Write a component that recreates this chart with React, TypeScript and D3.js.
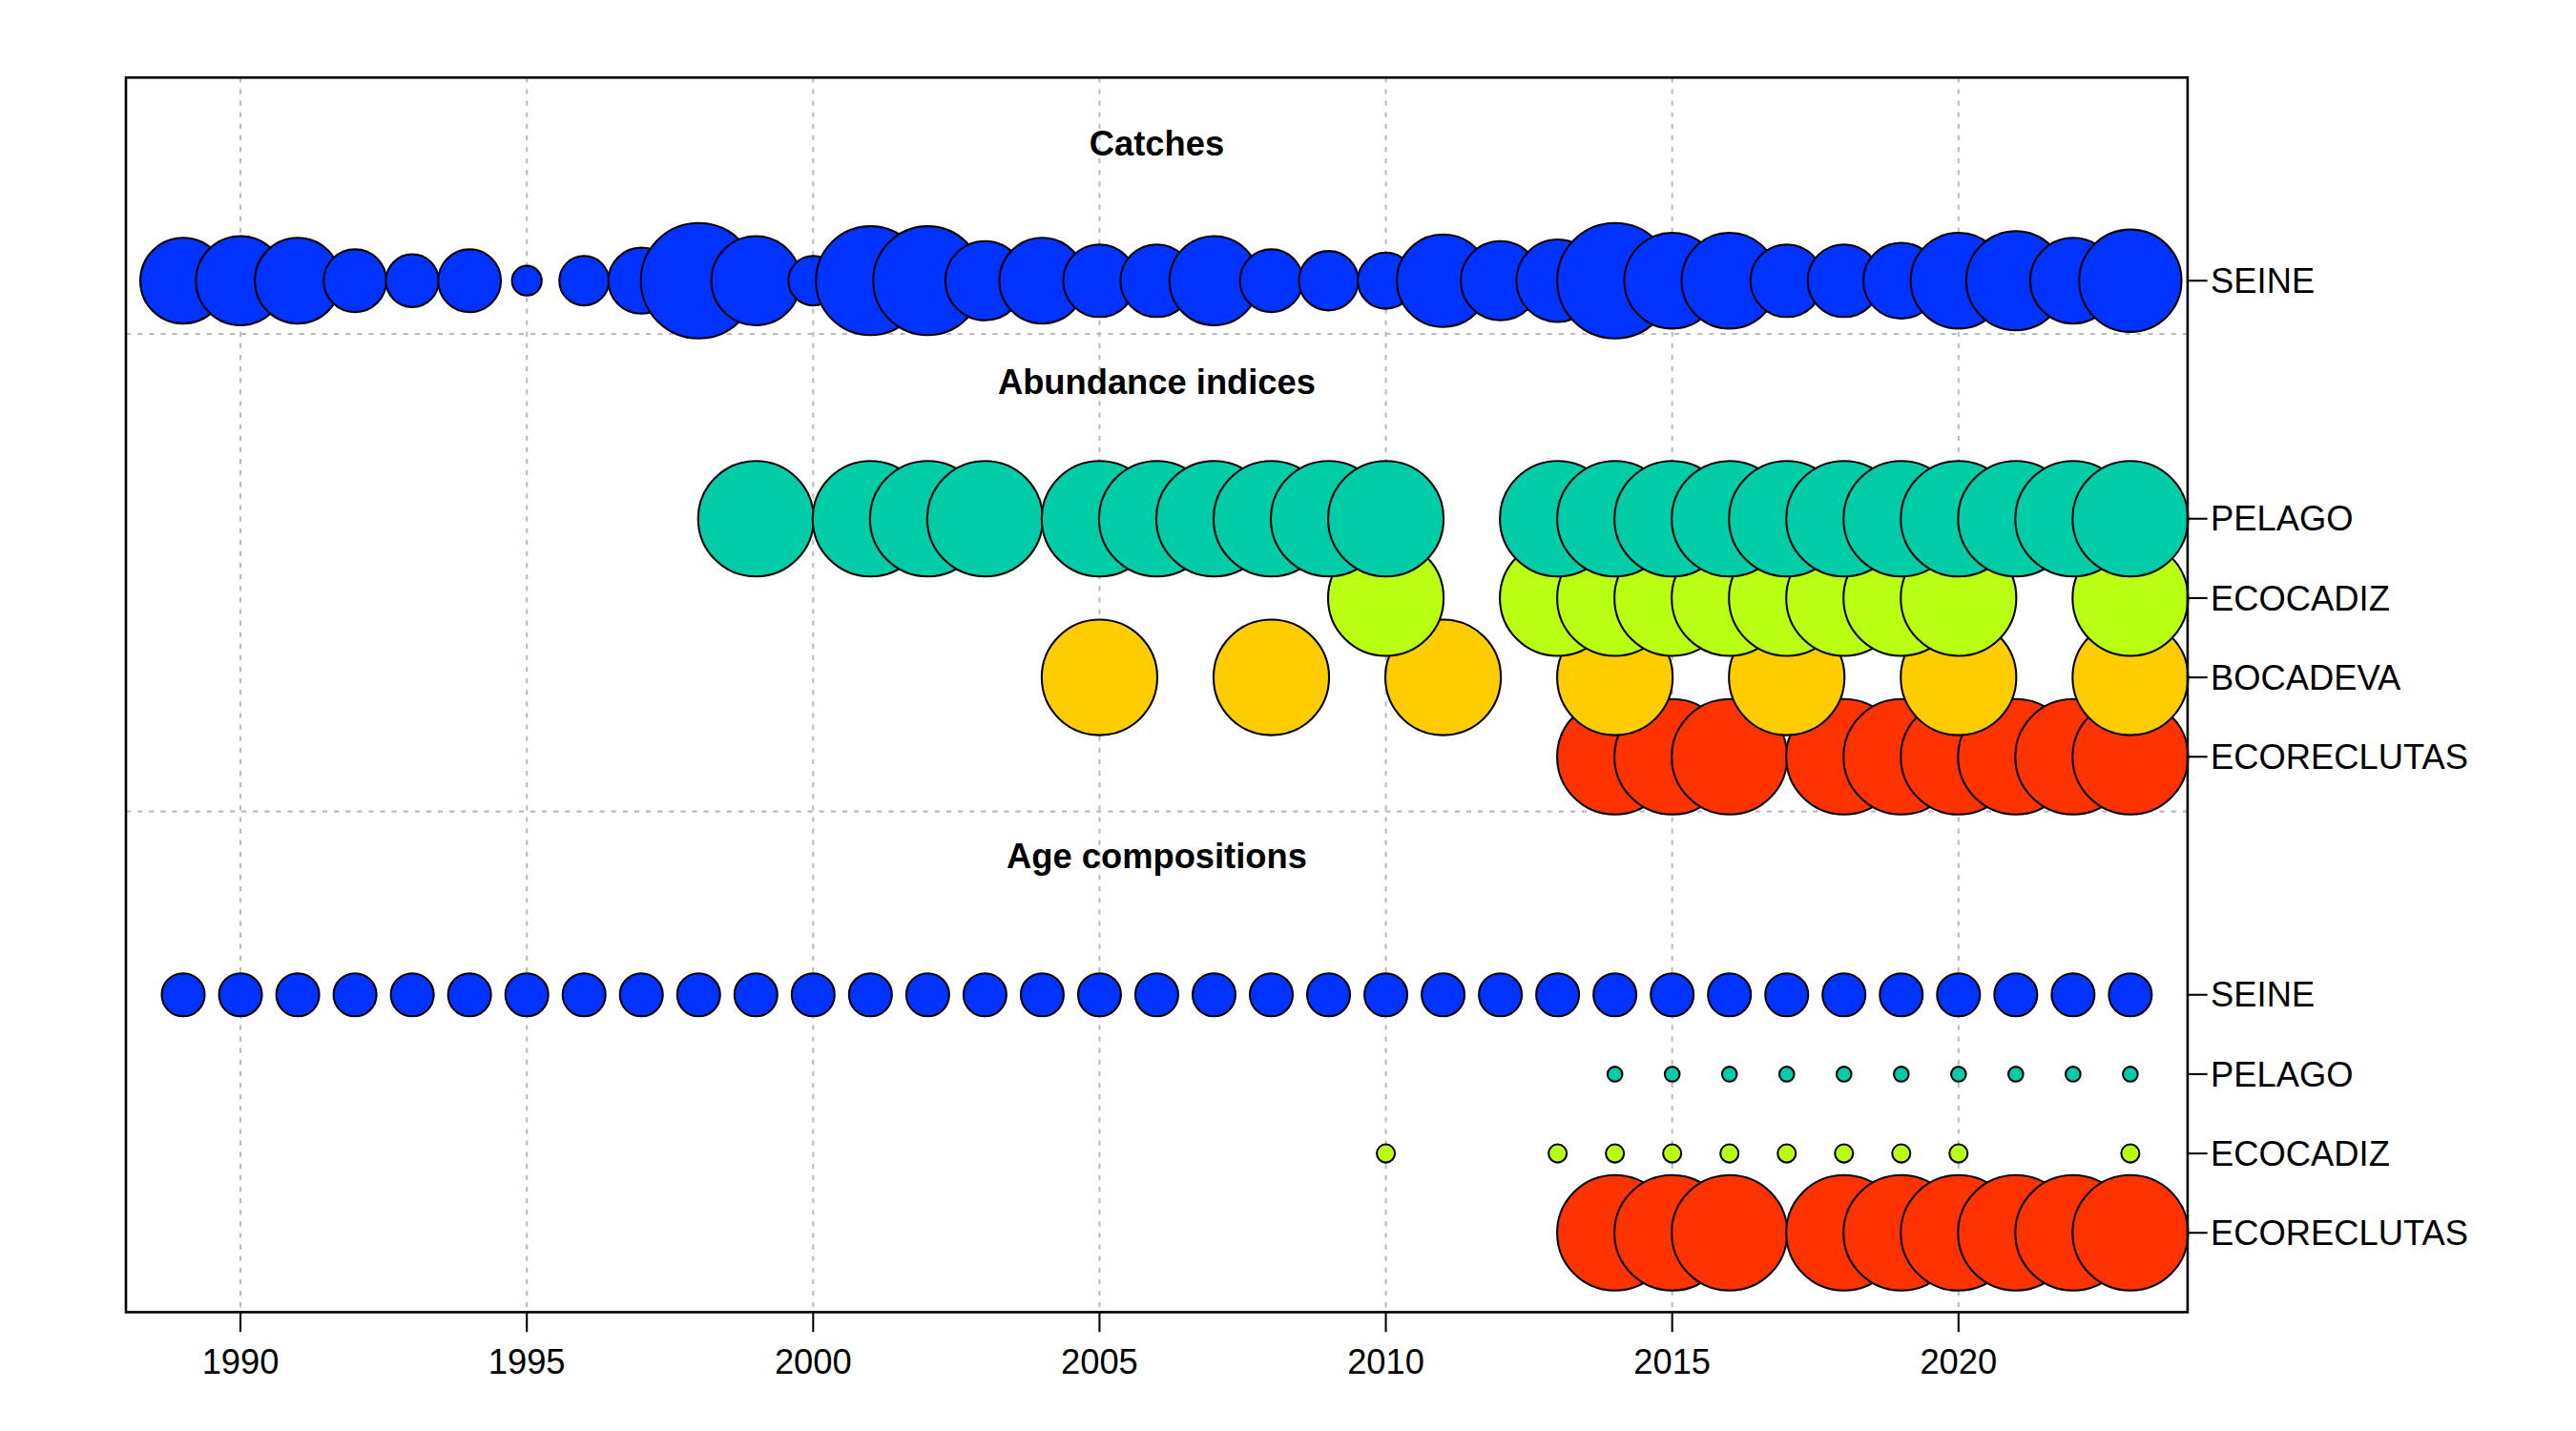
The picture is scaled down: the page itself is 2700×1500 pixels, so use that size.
import { useEffect, useRef } from 'react'
import * as d3 from 'd3'

const catchYears = d3.range(1989, 2024)
const catchSize = [26, 27, 26, 19, 16, 19, 9, 15, 20, 35, 27, 15, 33, 33, 24, 26, 22, 22, 27, 19, 18, 17, 28, 24, 25, 35, 29, 29, 22, 22, 23, 29, 30, 26, 31]

const pelagoYears = [1999, 2001, 2002, 2003, 2005, 2006, 2007, 2008, 2009, 2010, 2013, 2014, 2015, 2016, 2017, 2018, 2019, 2020, 2021, 2022, 2023]
const ecocadizYears = [2010, 2013, 2014, 2015, 2016, 2017, 2018, 2019, 2020, 2023]
const bocadevaYears = [2005, 2008, 2011, 2014, 2017, 2020, 2023]
const ecoreclutasYears = [2014, 2015, 2016, 2018, 2019, 2020, 2021, 2022, 2023]
const ageSeineYears = d3.range(1989, 2024)
const agePelagoYears = [2014, 2015, 2016, 2017, 2018, 2019, 2020, 2021, 2022, 2023]

const xTicks = [1990, 1995, 2000, 2005, 2010, 2015, 2020]

const colors = { SEINE: '#0033FF', PELAGO: '#00CCA8', ECOCADIZ: '#B8FF14', BOCADEVA: '#FFCC00', ECORECLUTAS: '#FF3300' }

// rows: label, row index, years, radius per year
interface Row { label: keyof typeof colors; pos: number; years: number[]; size: number[] }
const rows: Row[] = [
  { label: 'ECORECLUTAS', pos: 1, years: ecoreclutasYears, size: ecoreclutasYears.map(() => 35) },
  { label: 'ECOCADIZ', pos: 2, years: ecocadizYears, size: ecocadizYears.map(() => 5.5) },
  { label: 'PELAGO', pos: 3, years: agePelagoYears, size: agePelagoYears.map(() => 4.5) },
  { label: 'SEINE', pos: 4, years: ageSeineYears, size: ageSeineYears.map(() => 13) },
  { label: 'ECORECLUTAS', pos: 7, years: ecoreclutasYears, size: ecoreclutasYears.map(() => 35) },
  { label: 'BOCADEVA', pos: 8, years: bocadevaYears, size: bocadevaYears.map(() => 35) },
  { label: 'ECOCADIZ', pos: 9, years: ecocadizYears, size: ecocadizYears.map(() => 35) },
  { label: 'PELAGO', pos: 10, years: pelagoYears, size: pelagoYears.map(() => 35) },
  { label: 'SEINE', pos: 13, years: catchYears, size: catchSize },
]
const titles = [
  { text: 'Catches', pos: 14.73 },
  { text: 'Abundance indices', pos: 11.73 },
  { text: 'Age compositions', pos: 5.75 },
]
const separators = [12.33, 6.31]

export default function App() {
  const svgRef = useRef<SVGSVGElement>(null)

  useEffect(() => {
    if (!svgRef.current) return
    const svg = d3.select(svgRef.current)
    svg.selectAll('*').remove()

    const left = 76, right = 1325, top = 47, bottom = 795
    const x = d3.scaleLinear().domain([1988, 2024]).range([left, right])
    const y = d3.scaleLinear().domain([0, 15.56]).range([bottom, top])
    const font = 'Liberation Sans, Arial, sans-serif'

    // vertical grid
    svg.append('g').selectAll('line').data(xTicks).join('line')
      .attr('x1', (d) => x(d)).attr('x2', (d) => x(d))
      .attr('y1', top).attr('y2', bottom)
      .attr('stroke', '#bbb').attr('stroke-width', 1.2).attr('stroke-dasharray', '3,4')

    svg.append('g').selectAll('line').data(separators).join('line')
      .attr('x1', left).attr('x2', right)
      .attr('y1', (d) => y(d)).attr('y2', (d) => y(d))
      .attr('stroke', '#bbb').attr('stroke-width', 1.2).attr('stroke-dasharray', '3,4')

    rows.forEach((r) => {
      svg.append('g').selectAll('circle').data(r.years).join('circle')
        .attr('cx', (d) => x(d)).attr('cy', y(r.pos))
        .attr('r', (_, i) => r.size[i])
        .attr('fill', colors[r.label]).attr('stroke', '#000').attr('stroke-width', 1.2)
    })

    titles.forEach((t) => {
      svg.append('text').attr('x', x(2006)).attr('y', y(t.pos)).attr('dy', '0.35em')
        .attr('text-anchor', 'middle').attr('font-family', font).attr('font-weight', 'bold')
        .attr('font-size', 21).text(t.text)
    })

    svg.append('rect').attr('x', left).attr('y', top).attr('width', right - left).attr('height', bottom - top)
      .attr('fill', 'none').attr('stroke', '#000').attr('stroke-width', 1.5)

    // bottom axis
    const xa = svg.append('g')
    xa.selectAll('line').data(xTicks).join('line')
      .attr('x1', (d) => x(d)).attr('x2', (d) => x(d)).attr('y1', bottom).attr('y2', bottom + 12)
      .attr('stroke', '#000').attr('stroke-width', 1.2)
    xa.selectAll('text').data(xTicks).join('text')
      .attr('x', (d) => x(d)).attr('y', 825).attr('dy', '0.35em').attr('text-anchor', 'middle')
      .attr('font-family', font).attr('font-size', 21).text((d) => d)

    // right axis
    const ya = svg.append('g')
    ya.selectAll('line').data(rows).join('line')
      .attr('x1', right).attr('x2', right + 12).attr('y1', (d) => y(d.pos)).attr('y2', (d) => y(d.pos))
      .attr('stroke', '#000').attr('stroke-width', 1.2)
    ya.selectAll('text').data(rows).join('text')
      .attr('x', right + 14).attr('y', (d) => y(d.pos)).attr('dy', '0.35em')
      .attr('font-family', font).attr('font-size', 21).text((d) => d.label)
  }, [])

  return (
    <svg ref={svgRef} width={2700} height={1500} viewBox="0 0 1560 867"
      style={{ position: 'absolute', left: 0, top: 0, background: '#fff' }} />
  )
}
